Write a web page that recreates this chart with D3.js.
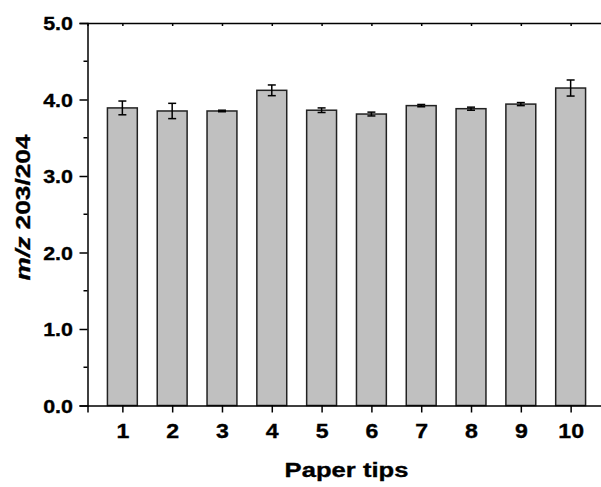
<!DOCTYPE html>
<html>
<head>
<meta charset="utf-8">
<script src="https://cdn.jsdelivr.net/npm/d3@7"></script>
<style>
  body { margin: 0; background: #fff; overflow: hidden; }
  svg { display: block; overflow: hidden; }
  text { font-family: "Liberation Sans", Arial, Helvetica, sans-serif; font-weight: bold; stroke: #000; stroke-width: 0.35px; }
</style>
</head>
<body>
<div id="chart"></div>
<script>

var tips = [1, 2, 3, 4, 5, 6, 7, 8, 9, 10];
var ratios = [3.89, 3.85, 3.85, 4.12, 3.86, 3.81, 3.92, 3.88, 3.94, 4.15];
var errors = [0.09, 0.10, 0.01, 0.07, 0.03, 0.025, 0.015, 0.02, 0.02, 0.105];
var yTicks = [0, 1, 2, 3, 4, 5];
var yMinor = [0.5, 1.5, 2.5, 3.5, 4.5];

var svgWidth = 601;
var svgHeight = 487;

var margin = { top: 23, left: 87.5 };
var plotRight = 605.5;   // the frame runs past the right edge of the picture
var plotBottom = 405.5;

var svg = d3.select("#chart")
  .append("svg")
  .attr("width", svgWidth)
  .attr("height", svgHeight);

var xScale = d3.scaleLinear()
  .domain([0.3, 10.7])
  .range([margin.left, plotRight]);

var yScale = d3.scaleLinear()
  .domain([0, 5])
  .range([plotBottom, margin.top]);

var barWidth = xScale(0.6) - xScale(0);

// bars
svg.append("g")
  .selectAll("rect")
  .data(tips)
  .enter()
  .append("rect")
  .attr("x", (d, i) => xScale(d) - barWidth / 2)
  .attr("y", (d, i) => yScale(ratios[i]))
  .attr("width", barWidth)
  .attr("height", (d, i) => yScale(0) - yScale(ratios[i]))
  .attr("fill", "#c0c0c0")
  .attr("stroke", "#222")
  .attr("stroke-width", 1.5);

// error bars
var errGroup = svg.append("g")
  .attr("stroke", "#000")
  .attr("stroke-width", 1.5);

tips.forEach(function(d, i) {
  var cx = xScale(d);
  var top = yScale(ratios[i] + errors[i]);
  var bot = yScale(ratios[i] - errors[i]);
  errGroup.append("line").attr("x1", cx).attr("x2", cx).attr("y1", top).attr("y2", bot);
  errGroup.append("line").attr("x1", cx - 4).attr("x2", cx + 4).attr("y1", top).attr("y2", top);
  errGroup.append("line").attr("x1", cx - 4).attr("x2", cx + 4).attr("y1", bot).attr("y2", bot);
});

// left axis
var leftAxis = d3.axisLeft(yScale)
  .tickValues(yTicks)
  .tickFormat(d3.format(".1f"))
  .tickSize(8);

var yAxis = svg.append("g")
  .attr("transform", `translate(${margin.left}, 0)`)
  .call(leftAxis);

yAxis.append("g")
  .selectAll("line")
  .data(yMinor)
  .enter()
  .append("line")
  .attr("x1", -4)
  .attr("x2", 0)
  .attr("y1", d => yScale(d))
  .attr("y2", d => yScale(d))
  .attr("stroke", "#000")
  .attr("stroke-width", 1.5);

// bottom axis
var bottomAxis = d3.axisBottom(xScale)
  .tickValues(tips)
  .tickFormat(d3.format("d"))
  .tickSize(7);

var xAxis = svg.append("g")
  .attr("transform", `translate(0, ${plotBottom})`)
  .call(bottomAxis);

// top axis
var topAxis = d3.axisBottom(xScale)
  .tickValues(tips)
  .tickFormat("")
  .tickSize(3);

var tAxis = svg.append("g")
  .attr("transform", `translate(0, ${margin.top})`)
  .call(topAxis);

[yAxis, xAxis, tAxis].forEach(function(a) {
  a.select(".domain").attr("stroke-width", 1.5).attr("stroke", "#000");
  a.selectAll(".tick line").attr("stroke-width", 1.5).attr("stroke", "#000");
});

// the original labels are a wide helvetica, so stretch a little
yAxis.selectAll(".tick text")
  .attr("x", null)
  .attr("dy", null)
  .attr("transform", "translate(-14.5, 6.8) scale(1.13, 1)")
  .attr("font-size", "19px")
  .attr("fill", "#000");

xAxis.selectAll(".tick text")
  .attr("y", null)
  .attr("dy", null)
  .attr("transform", "translate(0, 32.5) scale(1.1, 1)")
  .attr("font-size", "21px")
  .attr("fill", "#000");

// axis titles
svg.append("text")
  .attr("transform", `translate(${(margin.left + plotRight) / 2}, 477) scale(1.22, 1)`)
  .attr("text-anchor", "middle")
  .attr("font-size", "21px")
  .text("Paper tips");

var yLabel = svg.append("text")
  .attr("transform", "translate(30, 207.5) rotate(-90) scale(1.25, 1)")
  .attr("text-anchor", "middle")
  .attr("font-size", "21px");

yLabel.append("tspan")
  .attr("font-style", "italic")
  .text("m/z");

yLabel.append("tspan")
  .text(" 203/204");

</script>
</body>
</html>
